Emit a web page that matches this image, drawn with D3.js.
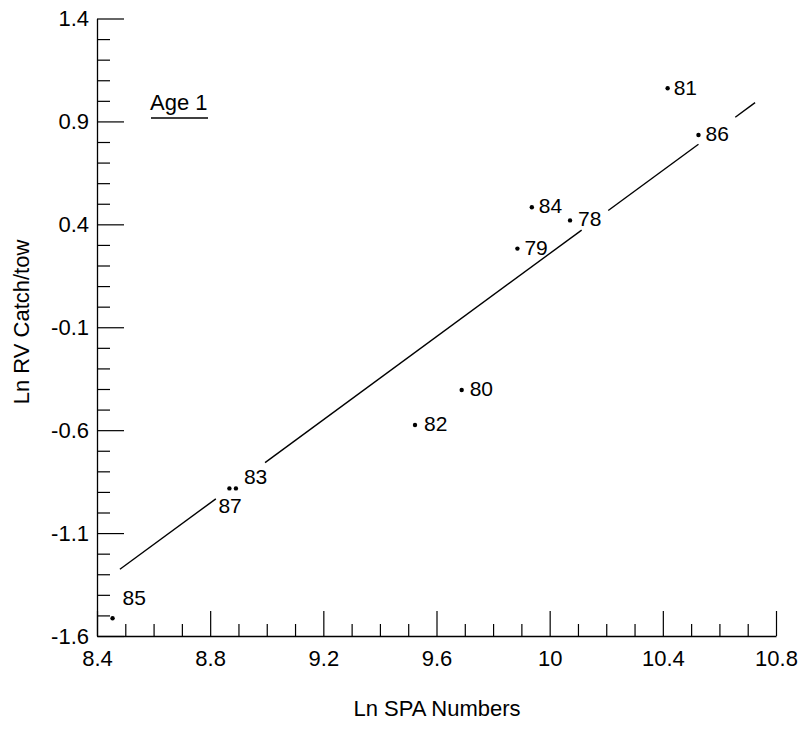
<!DOCTYPE html>
<html>
<head>
<meta charset="utf-8">
<script src="https://cdn.jsdelivr.net/npm/d3@7"></script>
<style>
  html, body { margin: 0; padding: 0; background: #fff; }
  svg { display: block; }
  text { font-family: "Liberation Sans", Arial, Helvetica, sans-serif; fill: #000; }
</style>
</head>
<body>
<script>
// ---- data ----
const years  = ["78", "79", "80", "81", "82", "83", "84", "85", "86", "87"];
const lnSPA  = [10.072, 9.886, 9.689, 10.417, 9.524, 8.891, 9.937, 8.455, 10.526, 8.868];
const lnRV   = [0.419, 0.282, -0.405, 1.061, -0.575, -0.883, 0.483, -1.514, 0.834, -0.883];
const xTicks = [8.4, 8.8, 9.2, 9.6, 10, 10.4, 10.8];
const yTicks = [1.4, 0.9, 0.4, -0.1, -0.6, -1.1, -1.6];
const regSlope = 1.0098, regIntercept = -9.840;
// fitted line drawn in pieces (gaps where the labels sit)
const regSegments = [[8.481, 8.820], [8.994, 10.113], [10.207, 10.526], [10.656, 10.726]];
const panelLabel = "Age 1";
const xTitle = "Ln SPA Numbers";
const yTitle = "Ln RV Catch/tow";

// label placement (pixels, relative to dot)
const labelOffsets = {
  "78": [8, 6], "79": [7, 6], "80": [8, 6], "81": [6, 7], "82": [9, 6],
  "83": [8, -4], "84": [7, 6], "85": [10, -13], "86": [7, 6], "87": [-11, 25]
};

const W = 801, H = 730;
const svg = d3.select("body").append("svg").attr("width", W).attr("height", H);

const x = d3.scaleLinear().domain([8.4, 10.8]).range([97, 776]);
const y = d3.scaleLinear().domain([-1.6, 1.4]).range([636, 18.5]);

const fontTick = "22px";
const fmt = d => String(d);   // plain hyphen minus, as in the original

// minor ticks
const xMinor = d3.range(84, 109).map(v => v / 10).filter(v => !xTicks.some(t => Math.abs(t - v) < 1e-6));
const yMinor = d3.range(-16, 15).map(v => v / 10).filter(v => !yTicks.some(t => Math.abs(t - v) < 1e-6));

const gx = svg.append("g").attr("transform", `translate(0,${y(-1.6)})`);
gx.call(d3.axisBottom(x).tickValues(xTicks).tickSizeInner(-25).tickSizeOuter(0).tickPadding(14).tickFormat(fmt));
gx.append("g").call(d3.axisBottom(x).tickValues(xMinor).tickSizeInner(-12).tickSizeOuter(0).tickFormat(""))
  .select(".domain").remove();

const gy = svg.append("g").attr("transform", `translate(${x(8.4)},0)`);
gy.call(d3.axisLeft(y).tickValues(yTicks).tickSizeInner(-27).tickSizeOuter(0).tickPadding(8).tickFormat(fmt));
gy.append("g").call(d3.axisLeft(y).tickValues(yMinor).tickSizeInner(-13).tickSizeOuter(0).tickFormat(""))
  .select(".domain").remove();

svg.selectAll(".domain").attr("stroke", "#000").attr("stroke-width", 1.3);
svg.selectAll(".tick line").attr("stroke", "#000").attr("stroke-width", 1.2);
svg.selectAll(".tick text").style("font-size", fontTick).attr("fill", "#000")
  .style("font-family", "'Liberation Sans', Arial, Helvetica, sans-serif");

// regression line
svg.append("g").selectAll("line").data(regSegments).join("line")
  .attr("x1", d => x(d[0])).attr("y1", d => y(regSlope * d[0] + regIntercept))
  .attr("x2", d => x(d[1])).attr("y2", d => y(regSlope * d[1] + regIntercept))
  .attr("stroke", "#000").attr("stroke-width", 1.4);

// points
const pts = years.map((yr, i) => ({ yr, xv: lnSPA[i], yv: lnRV[i] }));
svg.append("g").selectAll("circle").data(pts).join("circle")
  .attr("cx", d => x(d.xv)).attr("cy", d => y(d.yv)).attr("r", 2.2).attr("fill", "#000");
svg.append("g").selectAll("text").data(pts).join("text")
  .attr("x", d => x(d.xv) + labelOffsets[d.yr][0])
  .attr("y", d => y(d.yv) + labelOffsets[d.yr][1])
  .style("font-size", "21px")
  .text(d => d.yr);

// panel label
svg.append("text").attr("x", 150).attr("y", 110).style("font-size", "22px").text(panelLabel);
svg.append("line").attr("x1", 151).attr("x2", 208).attr("y1", 118).attr("y2", 118)
  .attr("stroke", "#000").attr("stroke-width", 1.3);

// axis titles
svg.append("text").attr("x", 437).attr("y", 716).attr("text-anchor", "middle")
  .style("font-size", "22px").text(xTitle);
svg.append("text").attr("transform", "translate(29,322) rotate(-90)").attr("text-anchor", "middle")
  .style("font-size", "22px").text(yTitle);
</script>
</body>
</html>
